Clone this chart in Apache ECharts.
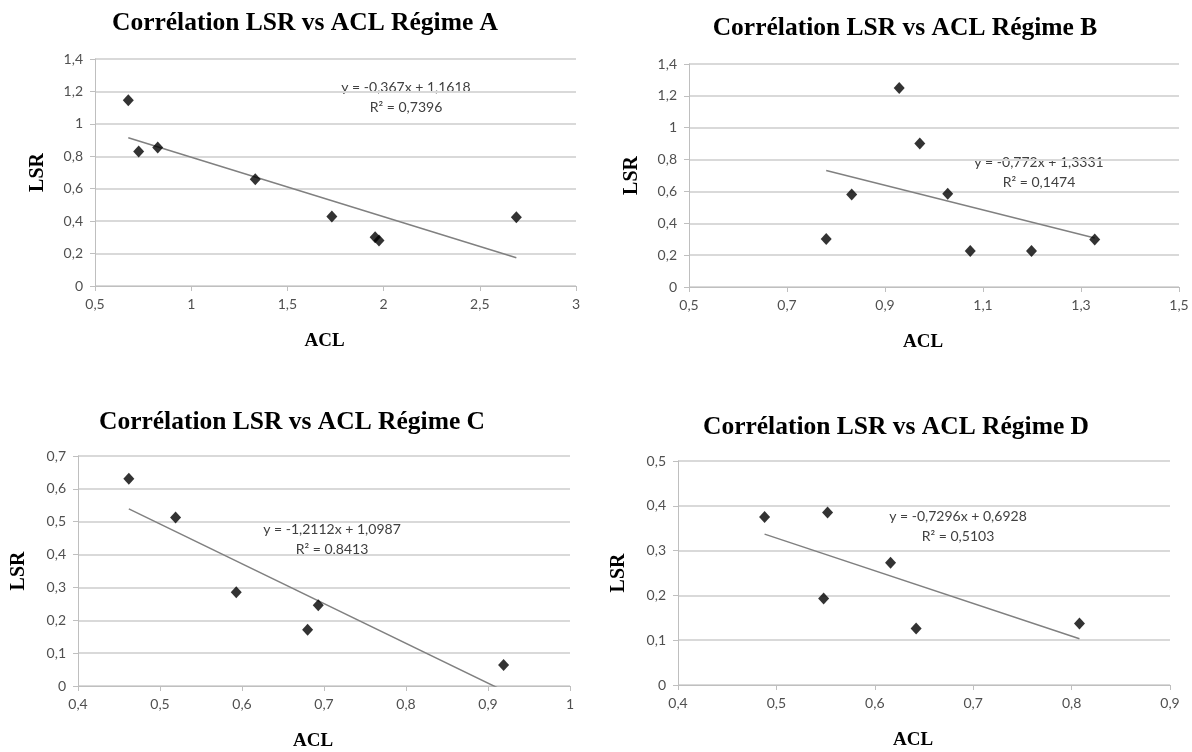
<!DOCTYPE html>
<html><head><meta charset="utf-8">
<script src="https://cdn.jsdelivr.net/npm/echarts@6/dist/echarts.min.js"></script>
<style>html,body{margin:0;padding:0;background:#fff}#c{width:1192px;height:752px}</style>
</head><body><div id="c"></div>
<script>
// ---- data ----
const chartTitles = ['Corrélation LSR vs ACL Régime A', 'Corrélation LSR vs ACL Régime B',
                     'Corrélation LSR vs ACL Régime C', 'Corrélation LSR vs ACL Régime D'];
const acl_A = [0.673, 0.727, 0.826, 1.333, 1.731, 1.956, 1.976, 2.690];
const lsr_A = [1.145, 0.830, 0.854, 0.659, 0.428, 0.301, 0.280, 0.424];
const acl_B = [0.780, 0.832, 0.929, 0.971, 1.028, 1.074, 1.199, 1.328];
const lsr_B = [0.302, 0.581, 1.249, 0.901, 0.585, 0.226, 0.226, 0.298];
const acl_C = [0.462, 0.519, 0.593, 0.680, 0.693, 0.919];
const lsr_C = [0.631, 0.513, 0.285, 0.171, 0.246, 0.064];
const acl_D = [0.488, 0.552, 0.548, 0.616, 0.642, 0.808];
const lsr_D = [0.375, 0.385, 0.193, 0.273, 0.126, 0.137];
const trendSlope = [-0.367, -0.772, -1.2112, -0.7296];
const trendIntercept = [1.1618, 1.3331, 1.0987, 0.6928];
const rSquared = [0.7396, 0.1474, 0.8413, 0.5103];
const xMin = [0.5, 0.5, 0.4, 0.4];
const xMax = [3, 1.5, 1, 0.9];
const xStep = [0.5, 0.2, 0.1, 0.1];
const yMax = [1.4, 1.4, 0.7, 0.5];
const yStep = [0.2, 0.2, 0.1, 0.1];
const xName = 'ACL';
const yName = 'LSR';

// ---- layout ----
const grids = [
  {left: 95, top: 59, width: 481, height: 227},
  {left: 689, top: 64, width: 490, height: 223},
  {left: 78, top: 456, width: 492, height: 230},
  {left: 678, top: 461, width: 492, height: 224}
];
const titlePos = [[305, 10], [905, 15], [292, 409], [896, 414]];
const eqPos = [[406, 87], [1039, 162], [332, 529], [958, 516]];

const acls = [acl_A, acl_B, acl_C, acl_D];
const lsrs = [lsr_A, lsr_B, lsr_C, lsr_D];

function fmt(v) { return String(Number(v.toFixed(4))).replace('.', ','); }

const serif = '"Liberation Serif", "Times New Roman", serif';
const sans = 'Lato, "Liberation Sans", sans-serif';

const option = {
  backgroundColor: '#ffffff',
  animation: false,
  title: chartTitles.map((t, i) => ({
    text: t, left: titlePos[i][0], top: titlePos[i][1], textAlign: 'center', padding: 0,
    textStyle: {fontFamily: serif, fontWeight: 'bold', fontSize: 25.5, color: '#000'}
  })),
  grid: grids,
  xAxis: grids.map((g, i) => ({
    type: 'value', gridIndex: i, min: xMin[i], max: xMax[i], interval: xStep[i],
    name: xName, nameLocation: 'middle', nameGap: 46,
    nameTextStyle: {fontFamily: serif, fontWeight: 'bold', fontSize: 19, color: '#000', padding: [0, 22, 0, 0]},
    axisLine: {show: true, lineStyle: {color: '#bfbfbf', width: 1}},
    axisTick: {show: true, length: 5, lineStyle: {color: '#bfbfbf'}},
    axisLabel: {fontFamily: sans, fontSize: 14, color: '#505050', margin: 11, formatter: v => fmt(v),
                showMinLabel: true, showMaxLabel: true},
    splitLine: {show: false}
  })),
  yAxis: grids.map((g, i) => ({
    type: 'value', gridIndex: i, min: 0, max: yMax[i], interval: yStep[i],
    name: yName, nameLocation: 'middle', nameRotate: 90, nameGap: i < 2 ? 47 : 49,
    nameTextStyle: {fontFamily: serif, fontWeight: 'bold', fontSize: 20, color: '#000'},
    axisLine: {show: true, lineStyle: {color: '#bfbfbf', width: 1}},
    axisTick: {show: true, length: 5, lineStyle: {color: '#bfbfbf'}},
    axisLabel: {fontFamily: sans, fontSize: 14, color: '#505050', margin: 12, formatter: v => fmt(v)},
    splitLine: {show: true, lineStyle: {color: '#d9d9d9', width: 1.8}}
  })),
  series: [],
  graphic: []
};

acls.forEach((xs, i) => {
  option.series.push({
    type: 'scatter', xAxisIndex: i, yAxisIndex: i, symbol: 'diamond', symbolSize: [11, 12],
    itemStyle: {color: '#000'}, z: 3,
    data: xs.map((x, k) => [x, lsrs[i][k]])
  });
  const lo = Math.min(...xs), hi = Math.max(...xs);
  option.series.push({
    type: 'line', xAxisIndex: i, yAxisIndex: i, symbol: 'none', clip: true, z: 2,
    lineStyle: {color: '#808080', width: 1.5},
    data: [[lo, trendSlope[i] * lo + trendIntercept[i]], [hi, trendSlope[i] * hi + trendIntercept[i]]]
  });
  option.graphic.push({
    type: 'text', x: eqPos[i][0], y: eqPos[i][1],
    style: {text: 'y = ' + fmt(trendSlope[i]) + 'x + ' + fmt(trendIntercept[i]),
            font: '14px ' + sans, fill: '#404040', align: 'center', verticalAlign: 'middle'}
  });
  option.graphic.push({
    type: 'text', x: eqPos[i][0], y: eqPos[i][1] + 20,
    style: {text: 'R² = ' + fmt(rSquared[i]),
            font: '14px ' + sans, fill: '#404040', align: 'center', verticalAlign: 'middle'}
  });
});

const chart = echarts.init(document.getElementById('c'), null, {renderer: 'canvas'});
chart.setOption(option);
</script></body></html>
